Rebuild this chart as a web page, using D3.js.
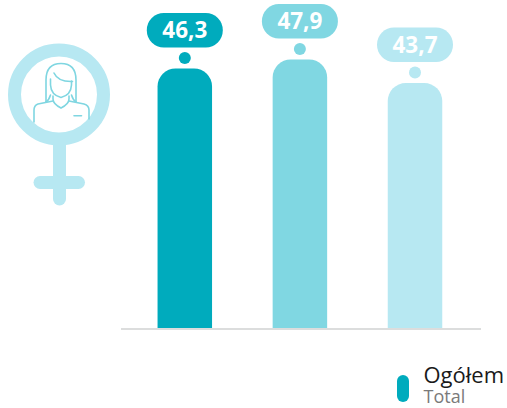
<!DOCTYPE html>
<html>
<head>
<meta charset="utf-8">
<style>
html, body { margin: 0; padding: 0; background: #fff; }
svg { display: block; }
</style>
<script src="https://d3js.org/d3.v7.min.js"></script>
</head>
<body>
<div id="chart"></div>
<script>
const categories = ['a', 'b', 'c'];
const values = [46.3, 47.9, 43.7];
const labels = ['46,3', '47,9', '43,7'];
const colors = ['#00abbd', '#80d7e2', '#b7e8f2'];

const w = 507;
const h = 408;
const barW = 54.5;
const barR = 18;

const svg = d3.select('#chart')
    .append('svg')
    .attr('width', w)
    .attr('height', h);

const x = d3.scalePoint().domain(categories).range([184.8, 415]);
const y = d3.scaleLinear().domain([0, 47.9]).range([328, 59.5]);

function barPath(d, i) {
    const cx = x(categories[i]);
    const left = cx - barW / 2;
    const right = cx + barW / 2;
    const top = y(d);
    return `M${left},${y(0)}V${top + barR}A${barR},${barR} 0 0 1 ${left + barR},${top}`
        + `H${right - barR}A${barR},${barR} 0 0 1 ${right},${top + barR}V${y(0)}Z`;
}

svg.append('line')
    .attr('x1', 121)
    .attr('x2', 481)
    .attr('y1', y(0) + 1)
    .attr('y2', y(0) + 1)
    .attr('stroke', '#dcdddd')
    .attr('stroke-width', 2);

svg.selectAll('path.bar')
    .data(values)
    .enter()
    .append('path')
    .attr('class', 'bar')
    .attr('d', barPath)
    .attr('fill', (d, i) => colors[i]);

svg.selectAll('circle.dot')
    .data(values)
    .enter()
    .append('circle')
    .attr('class', 'dot')
    .attr('cx', (d, i) => x(categories[i]))
    .attr('cy', (d) => y(d) - 10.5)
    .attr('r', 6)
    .attr('fill', (d, i) => colors[i]);

svg.selectAll('rect.bubble')
    .data(values)
    .enter()
    .append('rect')
    .attr('class', 'bubble')
    .attr('x', (d, i) => x(categories[i]) - 38)
    .attr('y', (d) => y(d) - 55.5)
    .attr('width', 76)
    .attr('height', 34.5)
    .attr('rx', 17)
    .attr('fill', (d, i) => colors[i]);

svg.selectAll('text.value')
    .data(values)
    .enter()
    .append('text')
    .attr('class', 'value')
    .attr('x', (d, i) => x(categories[i]))
    .attr('y', (d) => y(d) - 30.5)
    .attr('text-anchor', 'middle')
    .attr('font-family', '"Noto Sans", sans-serif')
    .attr('font-weight', 700)
    .attr('font-size', 22.5)
    .attr('fill', '#fff')
    .text((d, i) => labels[i]);

// female symbol
const icon = svg.append('g');
const iconColor = '#b7e8f2';
const lineColor = '#7fd6e1';

icon.append('circle')
    .attr('cx', 59)
    .attr('cy', 94.5)
    .attr('r', 44.5)
    .attr('fill', 'none')
    .attr('stroke', iconColor)
    .attr('stroke-width', 13);

icon.append('line')
    .attr('x1', 59.5)
    .attr('x2', 59.5)
    .attr('y1', 143)
    .attr('y2', 199)
    .attr('stroke', iconColor)
    .attr('stroke-width', 13)
    .attr('stroke-linecap', 'round');

icon.append('line')
    .attr('x1', 40)
    .attr('x2', 78.5)
    .attr('y1', 182.5)
    .attr('y2', 182.5)
    .attr('stroke', iconColor)
    .attr('stroke-width', 13)
    .attr('stroke-linecap', 'round');

const person = [
    'M46,102V80Q46,63.5 61,63.5Q76,63.5 76,80V102',
    'M46,102Q49,100 50.5,95',
    'M76,102Q73,100 71.5,95',
    'M54,73Q58,82 72.5,81.5',
    'M50.5,79V85Q51,95 61,97.5Q71,95 71.5,85V81',
    'M53,96V99Q53,104 61,108Q69,104 69,99V96',
    'M53,101L38,104Q34,105.5 34,110V122',
    'M69,101L84,104Q89,105.5 89,110V119',
    'M74,115.7H81.5'
];

icon.selectAll('path.person')
    .data(person)
    .enter()
    .append('path')
    .attr('class', 'person')
    .attr('d', (d) => d)
    .attr('fill', 'none')
    .attr('stroke', lineColor)
    .attr('stroke-width', 1.6)
    .attr('stroke-linecap', 'round');

// legend
svg.append('rect')
    .attr('x', 397)
    .attr('y', 375)
    .attr('width', 12)
    .attr('height', 27)
    .attr('rx', 6)
    .attr('fill', colors[0]);

svg.append('text')
    .attr('x', 423.5)
    .attr('y', 383)
    .attr('font-family', '"Open Sans", sans-serif')
    .attr('font-size', 22)
    .attr('fill', '#1a1a1a')
    .text('Ogółem');

svg.append('text')
    .attr('x', 423.5)
    .attr('y', 403)
    .attr('font-family', '"Open Sans", sans-serif')
    .attr('font-size', 18)
    .attr('fill', '#7a7a7a')
    .text('Total');
</script>
</body>
</html>
